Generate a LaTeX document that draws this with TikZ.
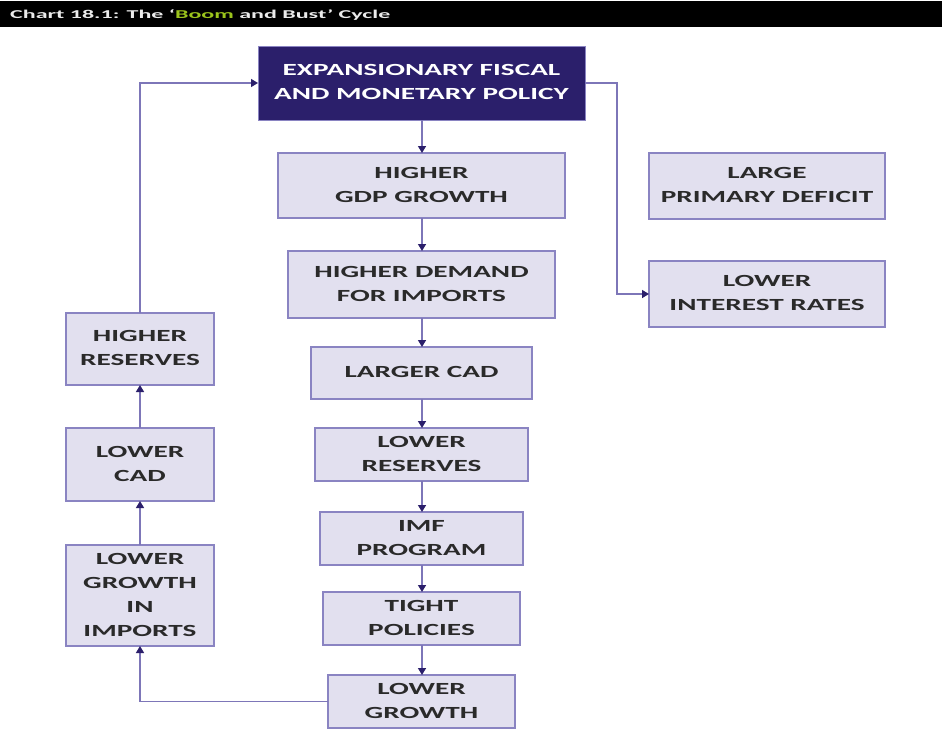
\documentclass[tikz,border=0pt]{standalone}
\usepackage{fontspec}
\setmainfont{Carlito}
\usetikzlibrary{arrows.meta}
\definecolor{navy}{HTML}{2B1F6B}
\definecolor{boxfill}{HTML}{E2E0EF}
\definecolor{boxline}{HTML}{8A84C2}
\definecolor{lineclr}{HTML}{7D76B8}
\definecolor{txt}{HTML}{2A2A2A}
\definecolor{boomgreen}{HTML}{9BC31C}
\tikzset{
  bx/.style={draw=boxline, line width=1.5pt, fill=boxfill, inner sep=0pt, outer sep=0pt, align=center,
    font=\bfseries\fontsize{17}{24}\selectfont, text=txt},
  topbx/.style={draw=boxline, line width=1pt, fill=navy, inner sep=0pt, outer sep=0pt, align=center,
    font=\bfseries\fontsize{17}{24}\selectfont, text=white},
  conn/.style={draw=lineclr, line width=1.4pt, -{Triangle[length=7pt,width=8pt,color=navy]}},
}
\newcommand{\bxat}[6]{% name, x1, y1, x2, y2, text
  \node[bx, minimum width={(#4-#2)*1pt}, minimum height={(#5-#3)*1pt}] (#1) at ({(#2+#4)/2},{(#3+#5)/2}) {\scalebox{1.72}[1]{\begin{tabular}{@{}c@{}}#6\end{tabular}}};}
\begin{document}
\begin{tikzpicture}[x=1pt,y=-1pt]
\useasboundingbox (0,0) rectangle (942,731);
\fill[white] (0,0) rectangle (942,731);
\fill[black] (0,1) rectangle (942,27);
\node[anchor=west, text=white!92!black, font=\bfseries\fontsize{12}{14}\selectfont, inner sep=0pt] (title) at (10,15)
  {\scalebox{2.0}[1]{Chart 18.1: The `\textcolor{boomgreen}{Boom} and Bust' Cycle}};

\node[topbx, minimum width=327pt, minimum height=74pt] (exp) at (421.5,83)
  {\scalebox{1.72}[1]{\begin{tabular}{@{}c@{}}EXPANSIONARY FISCAL\\AND MONETARY POLICY\end{tabular}}};
\bxat{gdp}{278}{153}{565}{218}{HIGHER\\GDP GROWTH}
\bxat{dem}{288}{251}{555}{318}{HIGHER DEMAND\\FOR IMPORTS}
\bxat{cad}{311}{347}{532}{399}{LARGER CAD}
\bxat{lres}{315}{428}{528}{481}{LOWER\\RESERVES}
\bxat{imf}{320}{512}{523}{565}{IMF\\PROGRAM}
\bxat{tight}{323}{592}{520}{645}{TIGHT\\POLICIES}
\bxat{lgrow}{328}{675}{515}{728}{LOWER\\GROWTH}
\bxat{lpd}{649}{153}{885}{219}{LARGE\\PRIMARY DEFICIT}
\bxat{lir}{649}{261}{885}{327}{LOWER\\INTEREST RATES}
\bxat{hres}{66}{313}{214}{385}{HIGHER\\RESERVES}
\bxat{lcad}{66}{428}{214}{501}{LOWER\\CAD}
\bxat{lgi}{66}{545}{214}{646}{LOWER\\GROWTH\\IN\\IMPORTS}

\draw[conn] (exp.south -| 422,0) -- (gdp.north -| 422,0);
\draw[conn] (gdp.south -| 422,0) -- (dem.north -| 422,0);
\draw[conn] (dem.south -| 422,0) -- (cad.north -| 422,0);
\draw[conn] (cad.south -| 422,0) -- (lres.north -| 422,0);
\draw[conn] (lres.south -| 422,0) -- (imf.north -| 422,0);
\draw[conn] (imf.south -| 422,0) -- (tight.north -| 422,0);
\draw[conn] (tight.south -| 422,0) -- (lgrow.north -| 422,0);
\draw[conn] (exp.east) -- (617,83) |- (lir.west);
\draw[conn] (lgrow.west) -| (lgi.south);
\draw[conn] (lgi.north) -- (lcad.south);
\draw[conn] (lcad.north) -- (hres.south);
\draw[conn] (hres.north) |- (exp.west);
\end{tikzpicture}
\end{document}
